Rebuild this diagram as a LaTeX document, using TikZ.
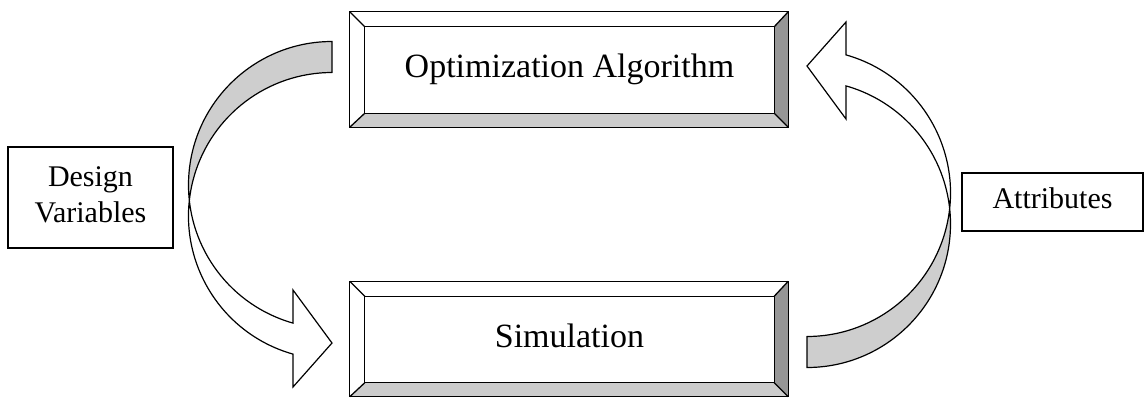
\documentclass[tikz,border=0pt]{standalone}
\usepackage{fontspec}
\setmainfont{Liberation Serif}
\usetikzlibrary{calc}
\definecolor{bevlight}{RGB}{204,204,204}
\definecolor{bevdark}{RGB}{150,150,150}
\definecolor{backgray}{RGB}{206,206,206}
\begin{document}
\begin{tikzpicture}[x=1pt,y=-1pt,
  outl/.style={draw=black, line width=1.3pt},
  mainbox/.style={minimum width=409pt, minimum height=86pt, inner sep=0pt,
    font=\fontsize{34}{40}\selectfont, text height=24pt, text depth=8.5pt},
  sidebox/.style={draw=black, line width=1.2pt, inner sep=0pt,
    font=\fontsize{30}{36}\selectfont, align=center},
  arrowline/.style={draw=black, line width=1.2pt, line join=miter},
]
\useasboundingbox (0,0) rectangle (1144,397);

% main bevelled boxes (inner faces)
\node[mainbox] (opt) at (569.5,70) {Optimization Algorithm};
\node[mainbox] (sim) at (569.5,339.5) {Simulation};

\foreach \n in {opt,sim}{
  \coordinate (\n-onw) at ($(\n.north west)+(-15,-15)$);
  \coordinate (\n-one) at ($(\n.north east)+(14,-15)$);
  \coordinate (\n-ose) at ($(\n.south east)+(14,14)$);
  \coordinate (\n-osw) at ($(\n.south west)+(-15,14)$);
  \fill[bevlight] (\n-osw) -- (\n.south west) -- (\n.south east) -- (\n-ose) -- cycle;
  \fill[bevdark] (\n-one) -- (\n-ose) -- (\n.south east) -- (\n.north east) -- cycle;
  \draw[outl] (\n-onw) rectangle (\n-ose);
  \draw[outl] (\n.north west) rectangle (\n.south east);
  \draw[outl] (\n-onw) -- (\n.north west) (\n-one) -- (\n.north east)
              (\n-ose) -- (\n.south east) (\n-osw) -- (\n.south west);
}

% side labels
\node[sidebox, minimum width=165pt, minimum height=101pt] (dv) at (90.5,197.5)
  {\strut Design\\Variables\strut};
\node[sidebox, minimum width=181pt, minimum height=58pt, text height=21pt, text depth=7.5pt]
  (att) at (1052.5,202) {Attributes};

% curved block arrows (right one is the left one turned half round)
\foreach \rot in {0,180}{
\begin{scope}[rotate around={\rot:(569.5,204.5)}]
  \fill[white] (188.5,185) arc[start angle=180, end angle=105.77, radius=143.5]
     -- (293,290) -- (332,343) -- (293,387) -- (293,354.1)
     arc[start angle=105.77, end angle=180, radius=143.5] -- cycle;
  \fill[backgray] (332,41.5) arc[start angle=270, end angle=173.8, radius=143.5]
     arc[start angle=186.2, end angle=270, radius=143.5] -- cycle;
  \draw[arrowline] (332,72.5) -- (332,41.5)
     arc[start angle=270, end angle=105.77, radius=143.5]
     -- (293,290) -- (332,343) -- (293,387) -- (293,354.1)
     arc[start angle=105.77, end angle=270, radius=143.5] -- cycle;
\end{scope}
}
\end{tikzpicture}
\end{document}
